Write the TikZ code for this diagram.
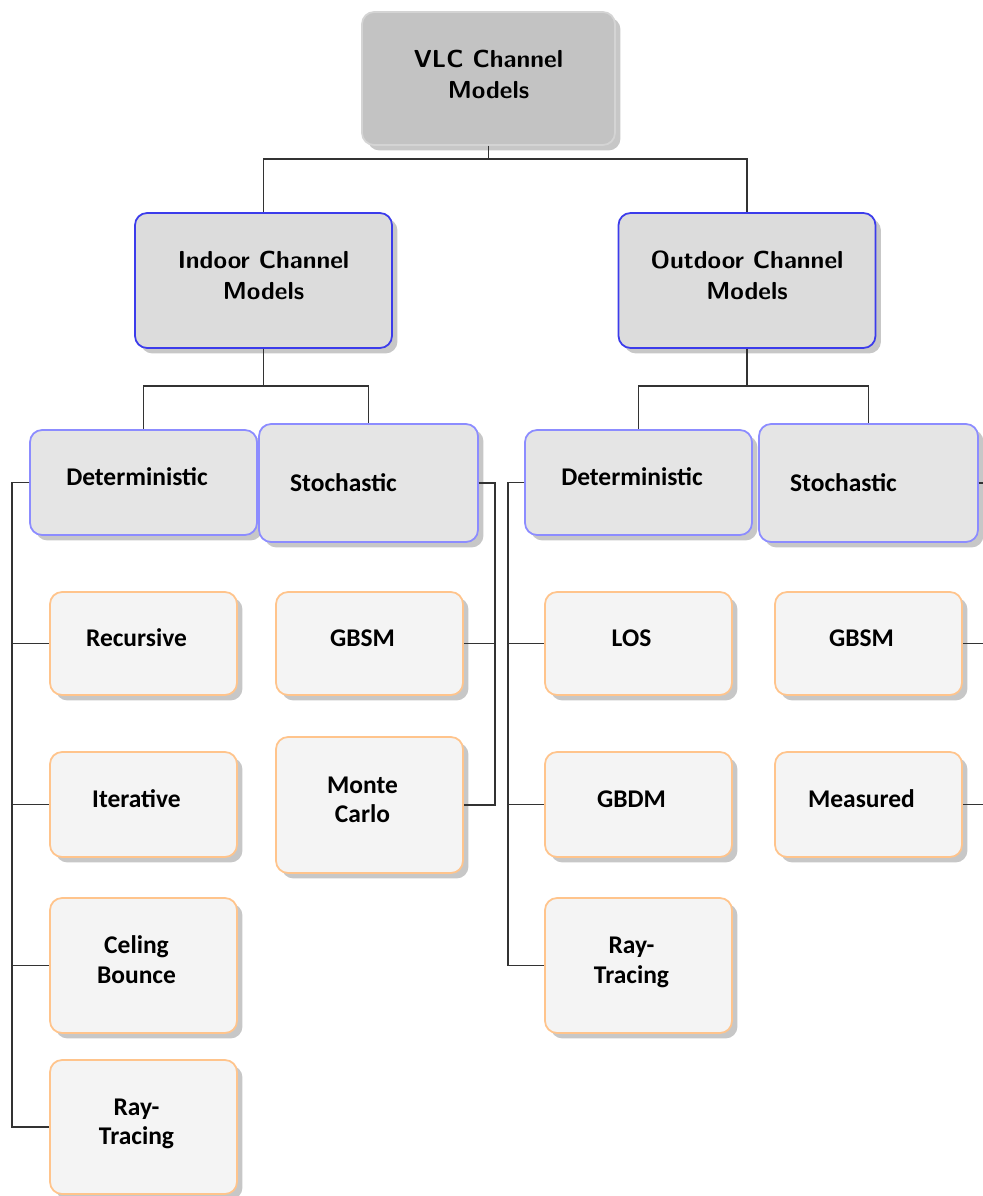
\documentclass[tikz,border=0pt]{standalone}
\usepackage{fontspec}
\newfontfamily\carlito{Carlito}
\usetikzlibrary{shadows}
\definecolor{raizfill}{RGB}{195,195,195}
\definecolor{raizborde}{RGB}{212,212,212}
\definecolor{ambfill}{RGB}{220,220,220}
\definecolor{ambborde}{RGB}{60,60,235}
\definecolor{tipofill}{RGB}{229,229,229}
\definecolor{tipoborde}{RGB}{140,140,255}
\definecolor{hojafill}{RGB}{244,244,244}
\definecolor{hojaborde}{RGB}{255,196,140}
\tikzset{
    relleno/.store in=\relleno, relleno=0cm,
    bajo/.store in=\bajo, bajo=-8.5pt,
    altura/.store in=\altura, altura=0pt
}
% texto centrado con ajuste de posicion
\newcommand{\celda}[1]{\begin{tabular}{@{}c@{}}#1\rule[\bajo]{0pt}{\altura}\end{tabular}\rule{\relleno}{0pt}}
\begin{document}
\begin{tikzpicture}[x=0.02cm, y=-0.02cm,
    caja/.style={draw, rounded corners=0.24cm, line width=1pt, inner sep=0pt,
        font=\sffamily\bfseries\fontsize{14}{17.5}\selectfont,
        drop shadow={shadow xshift=0.11cm, shadow yshift=-0.11cm, fill=black!40, opacity=0.55}},
    raiz/.style={caja, fill=raizfill, draw=raizborde, minimum width=5.06cm, minimum height=2.66cm, bajo=-7pt},
    ambito/.style={caja, fill=ambfill, draw=ambborde, minimum width=5.14cm, minimum height=2.7cm},
    tipo/.style={caja, fill=tipofill, draw=tipoborde, font=\carlito\bfseries\fontsize{14.5}{17}\selectfont},
    hoja/.style={caja, fill=hojafill, draw=hojaborde, minimum width=3.74cm, relleno=0.28cm,
        font=\carlito\bfseries\fontsize{14.5}{17}\selectfont},
    enlace/.style={line width=0.9pt, black!80}]
    % Marco de la figura
    \clip (0,0) rectangle (983,1196);

    % Nivel superior
    \node[raiz] (root) at (488.5,78.5) {\celda{VLC Channel\\Models}};
    \node[ambito] (indoor) at (263.5,280.5) {\celda{Indoor Channel\\Models}};
    \node[ambito] (outdoor) at (747,280.5) {\celda{Outdoor Channel\\Models}};

    % Tipos de modelo
    \node[tipo, minimum width=4.54cm, minimum height=2.1cm, relleno=0.26cm] (indet) at (143.5,482.5) {\celda{Deterministic}};
    \node[tipo, minimum width=4.38cm, minimum height=2.36cm, relleno=1cm, bajo=0pt, altura=15pt] (instoch) at (368.5,483) {\celda{Stochastic}};
    \node[tipo, minimum width=4.54cm, minimum height=2.1cm, relleno=0.26cm] (outdet) at (638.5,482.5) {\celda{Deterministic}};
    \node[tipo, minimum width=4.38cm, minimum height=2.36cm, relleno=1cm, bajo=0pt, altura=15pt] (outstoch) at (868.5,483) {\celda{Stochastic}};

    % Hojas: interior
    \node[hoja, minimum height=2.06cm] (recur) at (143.5,643.5) {\celda{Recursive}};
    \node[hoja, minimum height=2.1cm] (iter) at (143.5,804.5) {\celda{Iterative}};
    \node[hoja, minimum height=2.7cm] (ceil) at (143.5,965.5) {\celda{Celing\\Bounce}};
    \node[hoja, minimum height=2.68cm] (inray) at (143.5,1127) {\celda{Ray-\\Tracing}};
    \node[hoja, minimum height=2.06cm] (ingbsm) at (369.5,643.5) {\celda{GBSM}};
    \node[hoja, minimum height=2.72cm] (monte) at (369.5,805) {\celda{Monte\\Carlo}};

    % Hojas: exterior
    \node[hoja, minimum height=2.06cm] (los) at (638.5,643.5) {\celda{LOS}};
    \node[hoja, minimum height=2.1cm] (gbdm) at (638.5,804.5) {\celda{GBDM}};
    \node[hoja, minimum height=2.7cm] (outray) at (638.5,965.5) {\celda{Ray-\\Tracing}};
    \node[hoja, minimum height=2.06cm] (outgbsm) at (868.5,643.5) {\celda{GBSM}};
    \node[hoja, minimum height=2.1cm] (measured) at (868.5,804.5) {\celda{Measured}};

    % Conexiones del arbol
    \draw[enlace] (root.south) -- ++(0,13) -| (indoor.north);
    \draw[enlace] (root.south) -- ++(0,13) -| (outdoor.north);
    \draw[enlace] (indoor.south) -- ++(0,37) -| (indet.north);
    \draw[enlace] (indoor.south) -- ++(0,37) -| (instoch.north);
    \draw[enlace] (outdoor.south) -- ++(0,37) -| (outdet.north);
    \draw[enlace] (outdoor.south) -- ++(0,37) -| (outstoch.north);
    \foreach \h in {recur,iter,ceil,inray}
        \draw[enlace] (indet.west) -- ++(-17,0) |- (\h.west);
    \foreach \h in {ingbsm,monte}
        \draw[enlace] (instoch.east) -- ++(16,0) |- (\h.east);
    \foreach \h in {los,gbdm,outray}
        \draw[enlace] (outdet.west) -- ++(-16,0) |- (\h.west);
    \foreach \h in {outgbsm,measured}
        \draw[enlace] (outstoch.east) -- ++(20,0) |- (\h.east);
\end{tikzpicture}
\end{document}
